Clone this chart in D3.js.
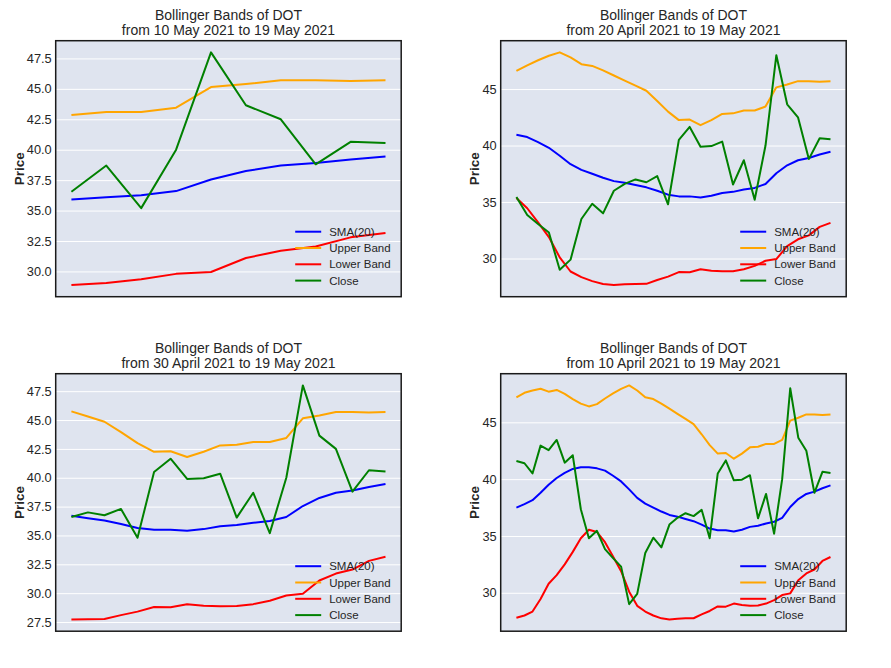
<!DOCTYPE html>
<html>
<head>
<meta charset="utf-8">
<script src="https://cdn.jsdelivr.net/npm/d3@7"></script>
<style>
  body { margin: 0; background: #fff; }
  text { font-family: "Liberation Sans", Arial, sans-serif; fill: #262626; }
</style>
</head>
<body>
<svg id="chart" width="891" height="668"></svg>
<script>
// daily data, 10 April 2021 .. 19 May 2021
let startDate = new Date(2021, 3, 10);
let dates = d3.range(40).map(i => d3.timeDay.offset(startDate, i));

let close = [
  41.6, 41.4, 40.5, 42.95, 42.55, 43.45, 41.45, 42.1, 37.35, 34.8,
  35.45, 33.85, 33.05, 32.3, 29.0, 29.9, 33.5, 34.85, 34.0, 36.0,
  36.6, 37.0, 36.75, 37.3, 34.8, 40.5, 41.65, 39.9, 39.95, 40.35,
  36.55, 38.7, 35.2, 40.0, 48.0, 43.65, 42.5, 38.8, 40.65, 40.55
];
let sma = [
  37.5, 37.8, 38.15, 38.8, 39.5, 40.1, 40.55, 40.9, 41.05, 41.05,
  40.95, 40.75, 40.3, 39.8, 39.1, 38.35, 37.85, 37.5, 37.15, 36.85,
  36.7, 36.5, 36.3, 36.0, 35.65, 35.5, 35.5, 35.4, 35.55, 35.8,
  35.9, 36.1, 36.25, 36.6, 37.55, 38.25, 38.7, 38.9, 39.2, 39.45
];
let upper = [
  47.2, 47.6, 47.8, 47.95, 47.7, 47.85, 47.5, 47.05, 46.65, 46.4,
  46.6, 47.1, 47.55, 47.95, 48.25, 47.8, 47.2, 47.05, 46.65, 46.2,
  45.75, 45.3, 44.85, 43.95, 43.0, 42.25, 42.3, 41.8, 42.25, 42.8,
  42.85, 43.1, 43.1, 43.45, 45.15, 45.4, 45.7, 45.7, 45.65, 45.7
];
let lower = [
  27.8, 28.0, 28.35, 29.45, 30.8, 31.55, 32.5, 33.6, 34.8, 35.55,
  35.35, 34.45, 33.2, 31.9, 30.1, 28.85, 28.35, 28.0, 27.75, 27.65,
  27.72, 27.75, 27.76, 28.1, 28.4, 28.8, 28.78, 29.05, 28.92, 28.87,
  28.88, 29.05, 29.35, 29.8, 29.95, 31.1, 31.7, 32.05, 32.8, 33.15
];

let seriesNames = ['SMA(20)', 'Upper Band', 'Lower Band', 'Close'];
let seriesValues = [sma, upper, lower, close];
let seriesColors = ['#0000ff', '#ffa500', '#ff0000', '#008000'];

let ticksFine = [27.5, 30, 32.5, 35, 37.5, 40, 42.5, 45, 47.5];
let ticksCoarse = [30, 35, 40, 45];

// window length (days) for each panel, in grid order
let panelDays = [10, 30, 20, 40];
let panelTicks = [ticksFine, ticksCoarse, ticksFine, ticksCoarse];
let panelFormat = ['.1f', 'd', '.1f', 'd'];

let plotW = 345.5;
let plotH1 = 256;
let plotH2 = 257.5;
let origins = [[55.7, 40.7, plotH1], [500.7, 40.7, plotH1], [55.7, 373.7, plotH2], [500.7, 373.7, plotH2]];

let svg = d3.select('#chart');
svg.append('rect').attr('width', 891).attr('height', 668).attr('fill', '#fff');

let fmtDate = d3.timeFormat('%-d %B %Y');

panelDays.forEach((days, p) => {
  let [left, top, h] = origins[p];
  let start = dates.length - days;
  let ds = dates.slice(start);
  let series = seriesValues.map(v => v.slice(start));

  let g = svg.append('g').attr('transform', `translate(${left},${top})`);

  // 5% margins like matplotlib
  let t0 = ds[0].getTime(), t1 = ds[ds.length - 1].getTime();
  let tpad = (t1 - t0) * 0.05;
  let x = d3.scaleTime()
    .domain([new Date(t0 - tpad), new Date(t1 + tpad)])
    .range([0, plotW]);

  let all = series.flat();
  let [lo, hi] = d3.extent(all);
  let vpad = (hi - lo) * 0.05;
  let y = d3.scaleLinear().domain([lo - vpad, hi + vpad]).range([h, 0]);

  g.append('rect')
    .attr('width', plotW)
    .attr('height', h)
    .attr('fill', '#dfe4ef');

  let ticks = panelTicks[p].filter(t => t >= y.domain()[0] && t <= y.domain()[1]);

  let yAxis = d3.axisLeft(y)
    .tickValues(ticks)
    .tickFormat(d3.format(panelFormat[p]))
    .tickSize(-plotW)
    .tickPadding(4);

  let ag = g.append('g').call(yAxis);
  ag.select('.domain').remove();
  ag.selectAll('.tick line').attr('stroke', '#fff').attr('stroke-width', 1);
  ag.selectAll('.tick text')
    .style('font-family', '"Liberation Sans", Arial, sans-serif')
    .style('font-size', '12.8px')
    .attr('fill', '#333');

  let maxTickW = d3.max(ag.selectAll('.tick text').nodes(), n => n.getComputedTextLength());

  let line = d3.line()
    .x((d, i) => x(ds[i]))
    .y(d => y(d));

  series.forEach((vals, s) => {
    g.append('path')
      .datum(vals)
      .attr('d', line)
      .attr('fill', 'none')
      .attr('stroke', seriesColors[s])
      .attr('stroke-width', 2)
      .attr('stroke-linejoin', 'round');
  });

  // frame
  g.append('rect')
    .attr('width', plotW)
    .attr('height', h)
    .attr('fill', 'none')
    .attr('stroke', '#1a1a1a')
    .attr('stroke-width', 1.5);

  // legend, lower right, no box
  let leg = g.append('g');
  seriesNames.forEach((name, s) => {
    let ly = h - 65 + s * 16.3;
    leg.append('line')
      .attr('x1', plotW - 106).attr('x2', plotW - 80)
      .attr('y1', ly).attr('y2', ly)
      .attr('stroke', seriesColors[s])
      .attr('stroke-width', 2);
    leg.append('text')
      .attr('x', plotW - 72)
      .attr('y', ly)
      .attr('dy', '0.35em')
      .style('font-size', '11.5px')
      .attr('fill', '#333')
      .text(name);
  });

  // title
  g.append('text')
    .attr('x', plotW / 2)
    .attr('y', -21)
    .attr('text-anchor', 'middle')
    .style('font-size', '14px')
    .text('Bollinger Bands of DOT');
  g.append('text')
    .attr('x', plotW / 2)
    .attr('y', -6)
    .attr('text-anchor', 'middle')
    .style('font-size', '14px')
    .text(`from ${fmtDate(ds[0])} to ${fmtDate(ds[ds.length - 1])}`);

  // y label
  let lx = -4 - maxTickW - 8;
  g.append('text')
    .attr('transform', `translate(${lx},${h / 2}) rotate(-90)`)
    .attr('text-anchor', 'middle')
    .attr('dy', '0.35em')
    .style('font-size', '13.5px')
    .style('font-weight', 'bold')
    .text('Price');
});
</script>
</body>
</html>
